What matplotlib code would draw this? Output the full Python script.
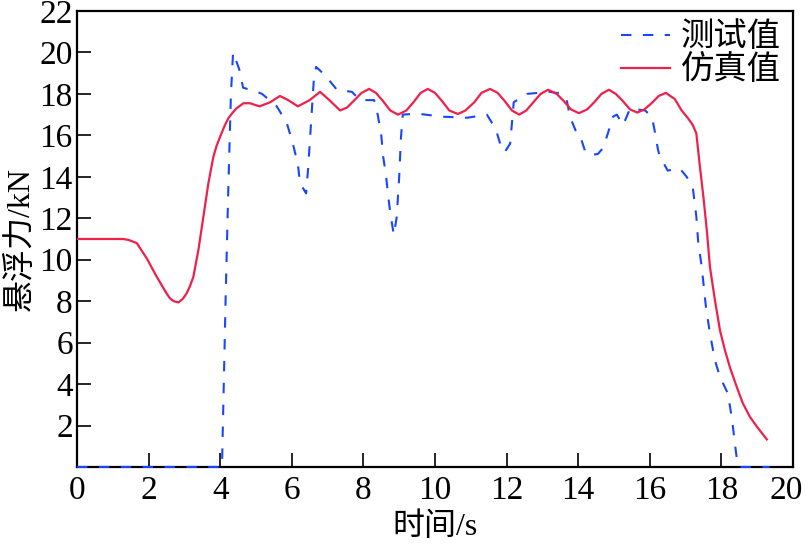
import matplotlib
matplotlib.use('Agg')
import matplotlib.pyplot as plt
import matplotlib.transforms as mtransforms

plt.rcParams['font.family'] = ['Liberation Serif', 'Noto Sans CJK SC']
plt.rcParams['axes.unicode_minus'] = False

# simulated levitation force (red solid)
sim_t = [0, 1.29, 1.45, 1.67, 1.95, 2.23, 2.5, 2.6, 2.7, 2.83, 2.95, 3.06,
         3.15, 3.25, 3.39, 3.53, 3.67, 3.81, 3.9, 4.0, 4.12, 4.23, 4.35, 4.46,
         4.65, 4.83, 5.1, 5.4,
         5.67, 5.9, 6.17, 6.5, 6.79, 7.05, 7.35, 7.55, 7.75, 7.95, 8.16, 8.35,
         8.55, 8.75, 8.97, 9.2, 9.4, 9.6, 9.8, 10.0, 10.2, 10.4, 10.64, 10.85,
         11.1, 11.3, 11.54, 11.75, 11.95, 12.15, 12.35, 12.55, 12.75, 12.95,
         13.16, 13.4, 13.6, 13.8, 14.02, 14.25, 14.45, 14.65, 14.86, 15.05,
         15.25, 15.45, 15.65, 15.85, 16.05, 16.25, 16.45, 16.7, 16.89, 17.08,
         17.2, 17.3, 17.4, 17.5, 17.6, 17.68, 17.82, 17.96, 18.1, 18.24,
         18.43, 18.6, 18.8, 19.0, 19.27]
sim_f = [11.0, 11.0, 10.95, 10.8, 10.06, 9.17, 8.38, 8.13, 8.0, 7.94, 8.1,
         8.37, 8.7, 9.17, 10.46, 12.07, 13.69, 14.97, 15.5, 15.94, 16.45,
         16.83, 17.1, 17.31, 17.55, 17.55, 17.4, 17.6,
         17.9, 17.7, 17.4, 17.7,
         18.1, 17.7, 17.2, 17.35, 17.7, 18.05, 18.24, 18.05, 17.65, 17.2,
         17.0, 17.2, 17.6, 18.05, 18.24, 18.05, 17.65, 17.2, 17.03, 17.2,
         17.6, 18.05, 18.24, 18.05, 17.65, 17.2, 17.0, 17.2, 17.6, 18.0,
         18.2, 18.0, 17.65, 17.25, 17.07, 17.25, 17.6, 18.0, 18.2, 18.0,
         17.65, 17.25, 17.1, 17.25, 17.55, 17.9, 18.05, 17.75, 17.2, 16.8,
         16.5, 16.1, 14.5, 13.0, 11.3, 9.66, 8.05, 6.6, 5.63, 4.8, 3.86, 3.07,
         2.41, 1.93, 1.33]

# measured levitation force (blue dashed)
test_t = [0, 4.05, 4.15, 4.22, 4.3, 4.36, 4.53, 4.64, 5.03, 5.17, 5.58, 5.86,
          6.03, 6.17, 6.23, 6.4, 6.46, 6.56, 6.62, 6.68, 6.93, 7.26, 7.68,
          7.9, 8.3, 8.4, 8.5, 8.55, 8.63, 8.69, 8.76, 8.85, 8.93, 9.0, 9.05,
          9.1, 9.5, 10.2, 10.9, 11.45, 11.7, 11.87, 11.95, 12.1, 12.15, 12.2,
          12.57, 13.2, 13.57, 13.68, 13.77, 13.96, 14.05, 14.2, 14.33, 14.55,
          14.7, 14.83, 14.97, 15.08, 15.25, 15.33, 15.45, 15.87, 16.06, 16.15,
          16.23, 16.28, 16.5, 16.84, 17.03, 17.2, 17.3, 17.35, 17.45, 17.57,
          17.68, 17.82, 17.96, 18.18, 18.29, 18.38, 18.45, 18.52, 19.35]
test_f = [0, 0, 8.0, 13.0, 18.0, 20.0, 19.2, 18.3, 18.1, 18.0, 17.4, 16.6,
          15.6, 14.6, 13.7, 13.2, 14.5, 17.2, 18.8, 19.3, 18.9, 18.2, 18.1,
          17.7, 17.7, 17.0, 16.0, 15.0, 14.1, 13.1, 12.15, 11.2, 12.05, 14.0,
          15.9, 17.0, 17.05, 16.9, 16.85, 17.0, 16.3, 15.3, 15.2, 15.6, 16.6,
          17.6, 18.0, 18.1, 18.0, 17.7, 16.9, 16.1, 16.0, 15.2, 15.05, 15.1,
          15.4, 16.1, 16.9, 17.0, 16.5, 16.8, 17.3, 17.2, 16.9, 16.1, 15.3,
          15.0, 14.3, 14.4, 14.0, 13.5, 12.1, 10.9, 9.66, 7.7, 6.45, 5.15,
          4.35, 3.55, 2.4, 1.1, 0.15, 0, 0]

xticks = list(range(0, 21, 2))
yticks = list(range(2, 23, 2))

fig = plt.figure(figsize=(8.08, 5.47), dpi=100)
ax = fig.add_axes([0.0953, 0.1463, 0.8861, 0.8336])

ax.plot(test_t, test_f, color='#1846ff', lw=1.5, ls=(0, (5, 5.5)),
        label='测试值', zorder=3, clip_on=False)
ax.plot(sim_t, sim_f, color='#f0204a', lw=1.6, label='仿真值', zorder=3)

ax.set_xlim(0, 20)
ax.set_ylim(0, 22)
ax.set_xticks(xticks)
ax.set_yticks(yticks)
ax.tick_params(direction='in', length=10, width=1.2, labelsize=24)
ax.tick_params(axis='x', pad=6)
ax.tick_params(axis='y', pad=3)
for s in ax.spines.values():
    s.set_linewidth(1.6)

# last x label sits against the figure edge, nudge it inside
last = ax.get_xticklabels()[-1]
last.set_transform(last.get_transform() +
                   mtransforms.ScaledTranslation(-5 / 72, 0, fig.dpi_scale_trans))

ax.set_xlabel('时间/s', fontsize=23, labelpad=5)
ax.set_ylabel('悬浮力/kN', fontsize=23)
ax.yaxis.set_label_coords(-0.058, 0.5)

ax.legend(loc='upper right', frameon=False, fontsize=24, handlelength=1.45,
          handletextpad=0.35, labelspacing=0.05, borderaxespad=0.15,
          borderpad=0.2)

fig.savefig('out.png', dpi=100)
